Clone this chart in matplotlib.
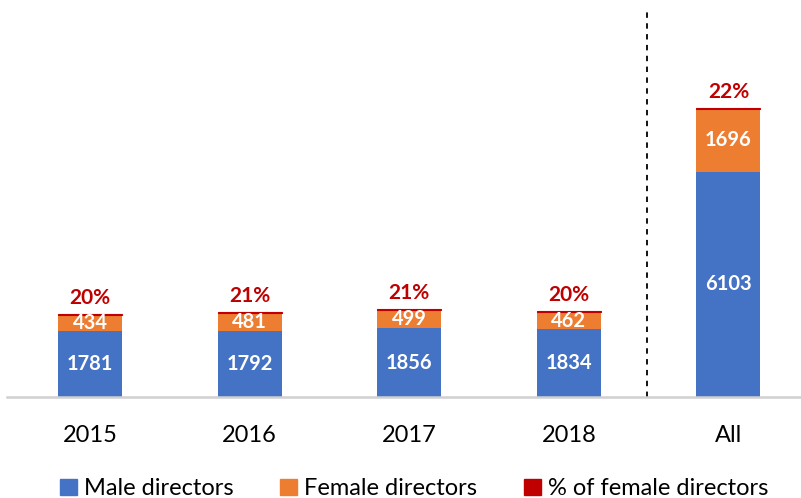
import matplotlib.pyplot as plt
from matplotlib.patches import Patch

plt.rcParams['font.family'] = ['Lato', 'DejaVu Sans']

categories = ['2015', '2016', '2017', '2018', 'All']
male = [1781, 1792, 1856, 1834, 6103]
female = [434, 481, 499, 462, 1696]
pct_female = [20, 21, 21, 20, 22]

blue = '#4472C4'
orange = '#ED7D31'
red = '#C00000'

fig = plt.figure(figsize=(8.01, 4.98), dpi=100)
ax = fig.add_axes([0.009, 0.203, 0.99, 0.781])

x = list(range(len(categories)))
w = 0.4
ax.bar(x, male, w, color=blue)
ax.bar(x, female, w, bottom=male, color=orange)
tops = [m + f for m, f in zip(male, female)]
# the percent series is stacked on top, tiny in data units
ax.bar(x, pct_female, w, bottom=tops, color=red, edgecolor=red, linewidth=0.8)

for i in x:
    ax.text(i, male[i] / 2, str(male[i]), ha='center', va='center',
            color='white', fontsize=14.5, fontweight='bold')
    ax.text(i, male[i] + female[i] / 2, str(female[i]), ha='center', va='center',
            color='white', fontsize=14.5, fontweight='bold')
    ax.text(i, tops[i] + pct_female[i] + 180, f'{pct_female[i]}%', ha='center',
            va='bottom', color=red, fontsize=15, fontweight='bold')

ax.axvline(3.49, ymin=0, ymax=1, color='black', linestyle=(0, (3, 3)), linewidth=1.3)

ax.set_xlim(-0.52, 4.45)
ax.set_ylim(0, 10540)
ax.set_xticks(x)
ax.set_xticklabels(categories, fontsize=17)
ax.tick_params(axis='x', length=0, pad=20)
ax.set_yticks([])
for s in ['top', 'right', 'left']:
    ax.spines[s].set_visible(False)
ax.spines['bottom'].set_color('#D0D0D0')
ax.spines['bottom'].set_linewidth(1.8)

handles = [Patch(color=blue, label='Male directors'),
           Patch(color=orange, label='Female directors'),
           Patch(color=red, label='% of female directors')]
fig.legend(handles=handles, loc='lower center', bbox_to_anchor=(0.517, -0.045), ncol=3,
           frameon=False, fontsize=17, handlelength=0.7, handleheight=0.7,
           handletextpad=0.3, columnspacing=2.0)

fig.savefig('out.png', dpi=100)
